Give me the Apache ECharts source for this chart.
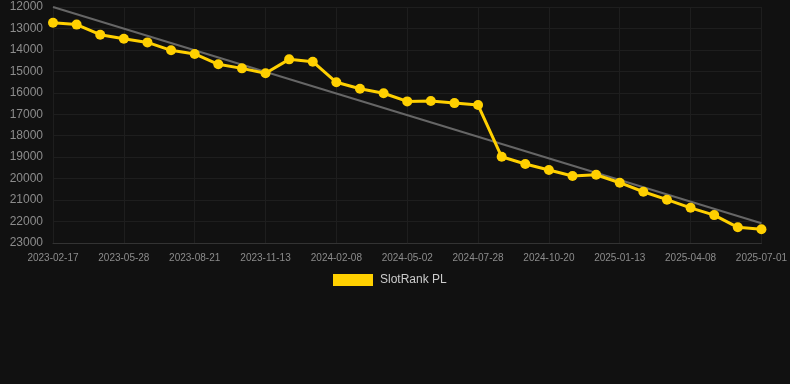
<!DOCTYPE html>
<html>
<head>
<meta charset="utf-8">
<script src="https://cdn.jsdelivr.net/npm/echarts@6/dist/echarts.min.js"></script>
<style>
html,body{margin:0;padding:0;background:#111111;}
#chart{width:790px;height:384px;}
</style>
</head>
<body>
<div id="chart"></div>
<script>
var categories = ["2023-02-17","2023-03-22","2023-04-25","2023-05-28","2023-06-26","2023-07-24","2023-08-21","2023-09-18","2023-10-16","2023-11-13","2023-12-11","2024-01-10","2024-02-08","2024-03-07","2024-04-04","2024-05-02","2024-05-30","2024-06-30","2024-07-28","2024-08-25","2024-09-22","2024-10-20","2024-11-17","2024-12-15","2025-01-13","2025-02-10","2025-03-11","2025-04-08","2025-05-06","2025-06-03","2025-07-01"];
var rankValues = [12730,12820,13290,13480,13650,14020,14190,14670,14860,15090,14440,14550,15510,15810,16020,16400,16380,16480,16570,18980,19320,19600,19880,19820,20190,20610,20980,21360,21700,22270,22360];
var trendStart = 12000;
var trendEnd = 22080;
var yMin = 12000, yMax = 23000, yStep = 1000;
var seriesName = "SlotRank PL";

var trendData = categories.map(function(c, i){
  if (i === 0) return trendStart;
  if (i === categories.length - 1) return trendEnd;
  return null;
});

var chart = echarts.init(document.getElementById('chart'), null, {renderer:'canvas'});
chart.setOption({
  backgroundColor: '#111111',
  animation: false,
  grid: {left: 53, right: 28, top: 7, bottom: 141},
  legend: {
    data: [seriesName],
    bottom: 93,
    left: 328,
    itemWidth: 40,
    itemHeight: 12,
    itemGap: 10,
    icon: 'rect',
    textStyle: {color: '#cccccc', fontSize: 12, padding: [0,0,0,2], fontFamily: 'Liberation Sans, Arial, sans-serif'}
  },
  xAxis: {
    type: 'category',
    data: categories,
    boundaryGap: false,
    axisLine: {lineStyle: {color: '#333333'}},
    axisTick: {show: false},
    axisLabel: {interval: 2, color: '#8c8c8c', fontSize: 10, margin: 10, fontFamily: 'Liberation Sans, Arial, sans-serif'},
    splitLine: {show: true, interval: 2, lineStyle: {color: '#1e1e1e'}}
  },
  yAxis: {
    type: 'value',
    inverse: true,
    min: yMin,
    max: yMax,
    interval: yStep,
    axisLine: {show: false},
    axisTick: {show: false},
    axisLabel: {color: '#8c8c8c', fontSize: 12, margin: 10, fontFamily: 'Liberation Sans, Arial, sans-serif',
      formatter: function(v){ return String(v); }},
    splitLine: {show: true, lineStyle: {color: '#1e1e1e'}}
  },
  series: [
    {
      name: 'trend',
      type: 'line',
      data: trendData,
      connectNulls: true,
      symbol: 'none',
      lineStyle: {color: '#666666', width: 2},
      silent: true,
      z: 1
    },
    {
      name: seriesName,
      type: 'line',
      data: rankValues,
      symbol: 'circle',
      symbolSize: 10,
      itemStyle: {color: '#FFD000'},
      lineStyle: {color: '#FFD000', width: 3},
      z: 2
    }
  ]
});
</script>
</body>
</html>
